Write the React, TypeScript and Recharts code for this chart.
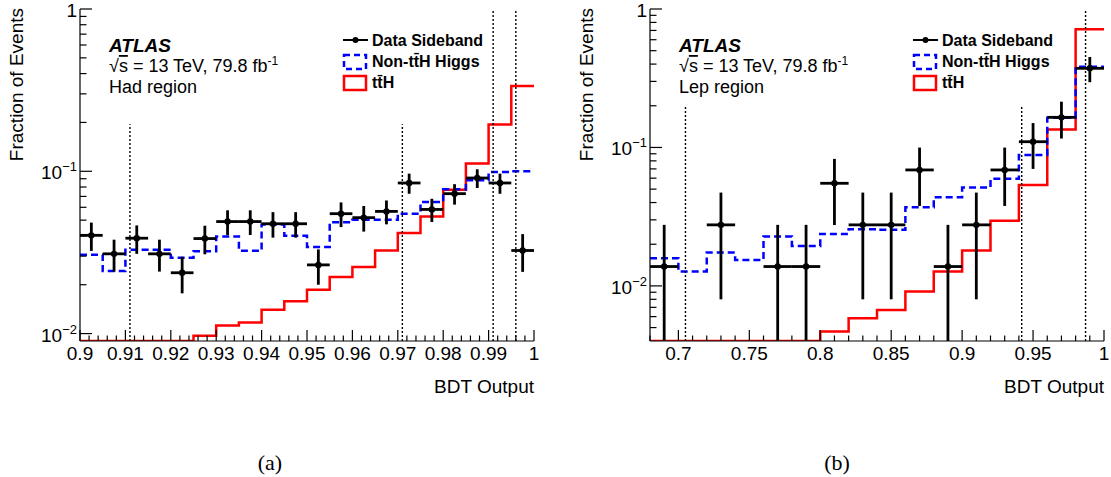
import React from 'react';
import { ComposedChart, Line, Scatter, ErrorBar, XAxis, YAxis, ReferenceLine } from 'recharts';

const FONT = '"Liberation Sans", Arial, Helvetica, sans-serif';

// ---------- Had region: 20 bins of 0.005 between 0.9 and 1 ----------
const hadEdges = [0.9, 0.905, 0.91, 0.915, 0.92, 0.925, 0.93, 0.935, 0.94, 0.945, 0.95, 0.955, 0.96, 0.965, 0.97, 0.975, 0.98, 0.985, 0.99, 0.995, 1.0];
const hadSideband = [0.0403, 0.031, 0.0387, 0.031, 0.0237, 0.0385, 0.049, 0.049, 0.0475, 0.0475, 0.0265, 0.0548, 0.0518, 0.0566, 0.0847, 0.0582, 0.0728, 0.0909, 0.0847, 0.0325];
const hadSidebandErr = [0.008, 0.0069, 0.0077, 0.0069, 0.006, 0.0077, 0.0085, 0.0085, 0.0085, 0.0085, 0.0065, 0.0095, 0.0093, 0.0095, 0.012, 0.0095, 0.0105, 0.012, 0.012, 0.0085];
const hadNonTTH = [0.0306, 0.0243, 0.0328, 0.0328, 0.0293, 0.0322, 0.0397, 0.0324, 0.047, 0.04, 0.0341, 0.0486, 0.0503, 0.0503, 0.0548, 0.0646, 0.0774, 0.088, 0.099, 0.1];
const hadTTH = [0.009, 0.009, 0.009, 0.009, 0.009, 0.0097, 0.0112, 0.0117, 0.014, 0.0158, 0.0186, 0.0223, 0.0257, 0.0325, 0.0416, 0.0527, 0.077, 0.1115, 0.194, 0.335];
const hadCuts = [0.911, 0.971, 0.991, 0.996];
const hadCutTops = [0.195, 0.195, 1, 1];
const hadXMajor = [0.9, 0.91, 0.92, 0.93, 0.94, 0.95, 0.96, 0.97, 0.98, 0.99, 1.0];
const hadXLabels = ['0.9', '0.91', '0.92', '0.93', '0.94', '0.95', '0.96', '0.97', '0.98', '0.99', '1'];

// ---------- Lep region: 16 bins of 0.02 between 0.68 and 1 ----------
const lepEdges = [0.68, 0.7, 0.72, 0.74, 0.76, 0.78, 0.8, 0.82, 0.84, 0.86, 0.88, 0.9, 0.92, 0.94, 0.96, 0.98, 1.0];
const lepSideband = [0.0138, null, 0.0276, null, 0.0138, 0.0138, 0.0551, 0.0276, 0.0276, 0.0688, 0.0138, 0.0276, 0.0688, 0.11, 0.165, 0.373];
const lepSidebandErr = [0.0138, null, 0.0196, null, 0.0138, 0.0138, 0.0276, 0.0196, 0.0196, 0.031, 0.0138, 0.0196, 0.031, 0.04, 0.049, 0.077];
const lepNonTTH = [0.01585, 0.0127, 0.0174, 0.0154, 0.0227, 0.01945, 0.0237, 0.0257, 0.0254, 0.037, 0.0437, 0.0513, 0.0593, 0.0883, 0.164, 0.3835];
const lepTTH = [0.004, 0.004, 0.004, 0.004, 0.004, 0.004, 0.00468, 0.00585, 0.0067, 0.0091, 0.0127, 0.018, 0.0296, 0.0536, 0.135, 0.713];
const lepCuts = [0.705, 0.942, 0.987];
const lepCutTops = [0.2, 0.2, 1];
const lepXMajor = [0.7, 0.75, 0.8, 0.85, 0.9, 0.95, 1.0];
const lepXLabels = ['0.7', '0.75', '0.8', '0.85', '0.9', '0.95', '1'];

const near = (a: number, b: number) => Math.abs(a - b) < 1e-9;

// axis decoration ticks (minor subdivisions)
function linTicks(lo: number, hi: number, step: number) {
  const out: number[] = [];
  const n = Math.round((hi - lo) / step);
  for (let i = 0; i <= n; i++) out.push(parseFloat((lo + i * step).toFixed(6)));
  return out;
}
function logTicks(lo: number) {
  const out: number[] = [];
  for (let k = -3; k <= 0; k++) {
    for (let m = 1; m <= 9; m++) {
      const v = parseFloat((m * Math.pow(10, k)).toPrecision(6));
      if (v > lo * 1.0001 && v <= 1) out.push(v);
    }
  }
  return out;
}
const isDecade = (v: number) => near(v, Math.pow(10, Math.round(Math.log10(v))));

const PLOT_H = 332;
const TOP = 9;
const CHART_H = 400;

function Panel({ width, marginRight, edges, sideband, sidebandErr, nonTTH, tth, cuts, cutTops, yMin, xMajor, xLabels, xMinorStep }: any) {
  const xMin = edges[0];
  const xMax = edges[edges.length - 1];
  const steps = edges.map((x: number, i: number) => ({
    x,
    non: nonTTH[Math.min(i, nonTTH.length - 1)],
    tth: tth[Math.min(i, tth.length - 1)],
  }));
  // error bars that reach zero are cut at the frame bottom (log axis)
  const points = sideband
    .map((v: number | null, i: number) =>
      v == null
        ? null
        : {
            x: (edges[i] + edges[i + 1]) / 2,
            y: v,
            ey: [v - Math.max(v - sidebandErr[i], yMin), sidebandErr[i]],
            ex: (edges[i + 1] - edges[i]) / 2,
          }
    )
    .filter(Boolean);
  const xTicks = linTicks(xMin, xMax, xMinorStep);
  const yTicks = logTicks(yMin);
  const xMajorIdx = (v: number) => xMajor.findIndex((m: number) => near(m, v));

  const bottomTick = (p: any) => {
    const idx = xMajorIdx(p.payload.value);
    const len = idx >= 0 ? 11 : 5.5;
    return (
      <g>
        <line x1={p.x} x2={p.x} y1={p.y} y2={p.y - len} stroke="#000" strokeWidth={1.2} />
        {idx >= 0 && (
          <text x={p.x} y={p.y + 19} textAnchor="middle" fontSize={19} fontFamily={FONT} fill="#000">
            {xLabels[idx]}
          </text>
        )}
      </g>
    );
  };
  const topTick = (p: any) => {
    const len = xMajorIdx(p.payload.value) >= 0 ? 11 : 5.5;
    return <line x1={p.x} x2={p.x} y1={p.y} y2={p.y + len} stroke="#000" strokeWidth={1.2} />;
  };
  const leftTick = (p: any) => {
    const v = p.payload.value;
    const major = isDecade(v);
    const exp = Math.round(Math.log10(v));
    return (
      <g>
        <line x1={p.x} x2={p.x + (major ? 12 : 6.5)} y1={p.y} y2={p.y} stroke="#000" strokeWidth={1.2} />
        {major && (
          <text x={p.x - 3} y={p.y + 8} textAnchor="end" fontSize={19} fontFamily={FONT} fill="#000">
            {exp === 0 ? '1' : (
              <>
                10<tspan fontSize={13} dy={-8}>{`\u2212${-exp}`}</tspan>
              </>
            )}
          </text>
        )}
      </g>
    );
  };
  const rightTick = (p: any) => {
    const len = isDecade(p.payload.value) ? 12 : 6.5;
    return <line x1={p.x} x2={p.x - len} y1={p.y} y2={p.y} stroke="#000" strokeWidth={1.2} />;
  };

  return (
    <ComposedChart width={width} height={CHART_H} margin={{ top: TOP, right: marginRight, bottom: 0, left: 0 }}>
      <XAxis xAxisId="b" dataKey="x" type="number" domain={[xMin, xMax]} ticks={xTicks} interval={0}
        height={CHART_H - TOP - PLOT_H} tickSize={0} tickMargin={0} tickLine={false} tick={bottomTick}
        axisLine={{ stroke: '#000', strokeWidth: 1.2 }} allowDataOverflow />
      <XAxis xAxisId="t" orientation="top" dataKey="x" type="number" domain={[xMin, xMax]} ticks={xTicks} interval={0}
        height={0} tickSize={0} tickMargin={0} tickLine={false} tick={topTick}
        axisLine={{ stroke: '#000', strokeWidth: 1.2 }} allowDataOverflow />
      <YAxis yAxisId="l" type="number" scale="log" domain={[yMin, 1]} ticks={yTicks} interval={0}
        width={80} tickSize={0} tickMargin={0} tickLine={false} tick={leftTick}
        axisLine={{ stroke: '#000', strokeWidth: 1.2 }} allowDataOverflow />
      <YAxis yAxisId="r" orientation="right" type="number" scale="log" domain={[yMin, 1]} ticks={yTicks} interval={0}
        width={0} tickSize={0} tickMargin={0} tickLine={false} tick={rightTick}
        axisLine={{ stroke: '#000', strokeWidth: 1.2 }} allowDataOverflow />

      <Line xAxisId="b" yAxisId="l" data={steps} dataKey="tth" type="stepAfter" stroke="#ff0000" strokeWidth={2.5}
        dot={false} isAnimationActive={false} />
      <Line xAxisId="b" yAxisId="l" data={steps} dataKey="non" type="stepAfter" stroke="#0000ff" strokeWidth={2.5}
        strokeDasharray="7 4" dot={false} isAnimationActive={false} />

      {cuts.map((c: number, i: number) => (
        <ReferenceLine key={i} xAxisId="b" yAxisId="l" segment={[{ x: c, y: yMin }, { x: c, y: cutTops[i] }]}
          stroke="#000" strokeWidth={1.4} strokeDasharray="2 2" />
      ))}

      <Scatter xAxisId="b" yAxisId="l" data={points} dataKey="y" isAnimationActive={false}
        shape={(p: any) => <circle cx={p.cx} cy={p.cy} r={3.2} fill="#000" />}>
        <ErrorBar dataKey="ey" direction="y" width={0} stroke="#000" strokeWidth={2.8} />
        <ErrorBar dataKey="ex" direction="x" width={0} stroke="#000" strokeWidth={2.8} />
      </Scatter>
    </ComposedChart>
  );
}

function Overlay({ dx, region, caption, captionX }: { dx: number; region: string; caption: string; captionX: number }) {
  const t = { fontFamily: FONT, fill: '#000' };
  return (
    <g>
      <text transform={`translate(${dx + 23},8) rotate(-90)`} textAnchor="end" fontSize={19} {...t}>
        Fraction of Events
      </text>
      <text x={dx + 534} y={393} textAnchor="end" fontSize={19} {...t}>BDT Output</text>

      <text x={dx + 109} y={52} fontSize={19} fontWeight="bold" fontStyle="italic" {...t}>ATLAS</text>
      <text x={dx + 109} y={72} fontSize={18} {...t}>
        {'\u221A'}
        <tspan textDecoration="overline">s</tspan>
        {' = 13 TeV, 79.8 fb'}
        <tspan fontSize={12} dy={-7}>-1</tspan>
      </text>
      <text x={dx + 109} y={93} fontSize={18} {...t}>{region}</text>

      <line x1={dx + 343} x2={dx + 368} y1={40} y2={40} stroke="#000" strokeWidth={2} />
      <circle cx={dx + 355.5} cy={40} r={3} fill="#000" />
      <text x={dx + 372} y={45.5} fontSize={16} fontWeight="bold" {...t}>Data Sideband</text>
      <rect x={dx + 344} y={55} width={22} height={14} fill="none" stroke="#0000ff" strokeWidth={2.5} strokeDasharray="6 4" />
      <text x={dx + 372} y={66.5} fontSize={16} fontWeight="bold" {...t}>{'Non-tt\u0304H Higgs'}</text>
      <rect x={dx + 344} y={76} width={22} height={14} fill="none" stroke="#ff0000" strokeWidth={2.5} />
      <text x={dx + 372} y={88} fontSize={16} fontWeight="bold" {...t}>{'tt\u0304H'}</text>

      <text x={captionX} y={470} textAnchor="middle" fontSize={22} fontFamily='"Liberation Serif", "Times New Roman", serif' fill="#000">
        {caption}
      </text>
    </g>
  );
}

export default function App() {
  return (
    <div style={{ position: 'absolute', left: 0, top: 0, width: 1111, height: 477, background: '#fff', overflow: 'hidden' }}>
      <div style={{ position: 'absolute', left: 0, top: 0 }}>
        <Panel width={570} marginRight={36} edges={hadEdges} sideband={hadSideband} sidebandErr={hadSidebandErr}
          nonTTH={hadNonTTH} tth={hadTTH} cuts={hadCuts} cutTops={hadCutTops} yMin={0.009}
          xMajor={hadXMajor} xLabels={hadXLabels} xMinorStep={0.002} />
      </div>
      <div style={{ position: 'absolute', left: 570, top: 0 }}>
        <Panel width={541} marginRight={7} edges={lepEdges} sideband={lepSideband} sidebandErr={lepSidebandErr}
          nonTTH={lepNonTTH} tth={lepTTH} cuts={lepCuts} cutTops={lepCutTops} yMin={0.004}
          xMajor={lepXMajor} xLabels={lepXLabels} xMinorStep={0.01} />
      </div>
      <svg width={1111} height={477} style={{ position: 'absolute', left: 0, top: 0, pointerEvents: 'none' }}>
        <Overlay dx={0} region="Had region" caption="(a)" captionX={270} />
        <Overlay dx={570} region="Lep region" caption="(b)" captionX={837} />
      </svg>
    </div>
  );
}
